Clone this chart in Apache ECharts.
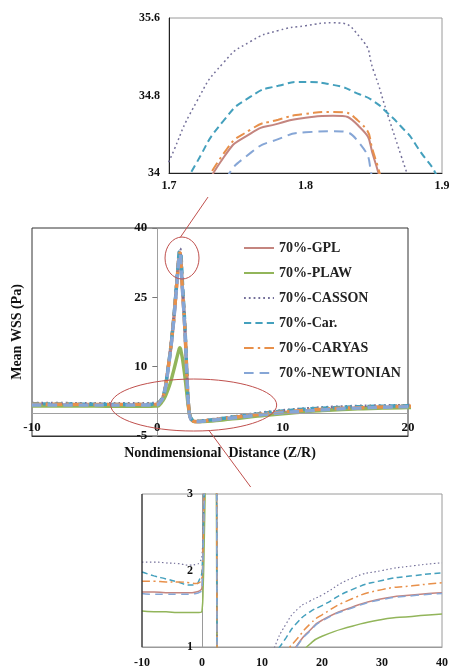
<!DOCTYPE html>
<html lang="en">
<head>
<meta charset="UTF-8">
<title>Mean WSS - 70% stenosis</title>
<script src="https://cdn.jsdelivr.net/npm/echarts@6/dist/echarts.min.js"></script>
<style>
  html, body { margin: 0; padding: 0; background: #fff; }
  #chart { width: 449px; height: 669px; }
</style>
</head>
<body>
<div id="chart"></div>
<script>
// Z/R stations (dense around the throat so the peak inset has detail)
const zr = [-10, -8, -6, -4, -2, -1, -0.5, 0,
  0.2, 0.4, 0.6, 0.8, 1.0, 1.2, 1.4, 1.6,
  1.7, 1.72, 1.74, 1.76, 1.78, 1.8, 1.82, 1.84, 1.85, 1.86, 1.87, 1.88, 1.9,
  2.0, 2.2, 2.4, 2.5, 2.6, 2.8, 3,
  4, 6, 8, 10, 12, 14, 16, 18, 20,
  25, 30, 35, 40];

// mean WSS (Pa) per model
const gpl = [1.72, 1.72, 1.71, 1.71, 1.71, 1.72, 1.73, 1.78,
  2.3, 3.1, 4.9, 8.4, 12.5, 17.2, 23.0, 29.6,
  33.0, 33.6, 34.16, 34.41, 34.51, 34.57, 34.59, 34.47, 34.16, 33.6, 33.1, 32.6, 31.7,
  27.0, 18.0, 5.5, 1.2, -0.8, -1.7, -1.9,
  -1.7, -1.1, -0.5, 0.05, 0.45, 0.78, 1.04, 1.22, 1.35,
  1.52, 1.63, 1.68, 1.71];
const plaw = [1.47, 1.46, 1.46, 1.45, 1.45, 1.45, 1.45, 1.47,
  1.8, 2.5, 3.4, 4.7, 6.2, 8.1, 10.2, 12.4,
  13.4, 13.6, 13.8, 13.95, 14.05, 14.1, 14.1, 14.0, 13.9, 13.8, 13.65, 13.5, 13.2,
  11.8, 7.8, 3.0, 0.9, -0.6, -1.6, -1.9,
  -1.8, -1.3, -0.7, -0.2, 0.3, 0.6, 0.86, 1.04, 1.14,
  1.27, 1.36, 1.4, 1.43];
const casson = [2.11, 2.11, 2.10, 2.09, 2.07, 2.08, 2.10, 2.2,
  2.6, 3.4, 5.2, 8.8, 13.0, 18.0, 24.0, 31.0,
  34.12, 34.73, 35.14, 35.36, 35.47, 35.52, 35.55, 35.40, 35.05, 34.61, 34.18, 33.75, 32.8,
  28.0, 18.5, 6.0, 1.5, -0.5, -1.5, -1.75,
  -1.5, -0.8, -0.05, 0.55, 0.98, 1.3, 1.5, 1.6, 1.68,
  1.9, 2.0, 2.06, 2.1];
const car = [1.98, 1.93, 1.89, 1.85, 1.81, 1.82, 1.87, 2.0,
  2.5, 3.3, 5.1, 8.6, 12.7, 17.5, 23.4, 30.2,
  33.55, 34.1, 34.54, 34.79, 34.9, 34.94, 34.91, 34.81, 34.74, 34.62, 34.48, 34.31, 33.8,
  28.5, 18.8, 5.9, 1.4, -0.6, -1.55, -1.8,
  -1.6, -0.9, -0.2, 0.4, 0.85, 1.12, 1.33, 1.46, 1.54,
  1.75, 1.87, 1.93, 1.97];
const caryas = [1.86, 1.86, 1.85, 1.85, 1.84, 1.83, 1.84, 1.90,
  2.4, 3.2, 5.0, 8.5, 12.6, 17.3, 23.1, 29.7,
  33.05, 33.65, 34.2, 34.45, 34.55, 34.61, 34.63, 34.52, 34.2, 33.65, 33.15, 32.65, 31.75,
  27.0, 18.0, 5.6, 1.3, -0.7, -1.6, -1.85,
  -1.65, -1.0, -0.35, 0.2, 0.6, 0.92, 1.12, 1.3, 1.42,
  1.63, 1.75, 1.8, 1.84];
const newtonian = [1.70, 1.69, 1.69, 1.69, 1.69, 1.70, 1.71, 1.76,
  2.3, 3.0, 4.8, 8.2, 12.3, 17.0, 22.7, 29.3,
  32.7, 33.3, 33.9, 34.21, 34.35, 34.42, 34.43, 34.3, 33.9, 33.4, 32.9, 32.4, 31.5,
  26.8, 17.8, 5.4, 1.2, -0.8, -1.7, -1.9,
  -1.7, -1.1, -0.5, 0.04, 0.44, 0.77, 1.03, 1.21, 1.34,
  1.51, 1.62, 1.67, 1.70];

// axis ranges: [min, max, interval]
const mainX = [-10, 20, 10];
const mainY = [-5, 40, 15];
const peakX = [1.7, 1.9, 0.1];
const peakY = [34, 35.6, 0.8];
const tailX = [-10, 40, 10];
const tailY = [1, 3, 1];

// zoom marks on the main chart (data coords)
const peakMark = [1.97, 33.5];
const dipMark = [2.9, 1.7];

const FONT = '"Liberation Serif", "Times New Roman", serif';
const RED = '#c0504d';

// plot boxes
const mainBox = { left: 32, top: 228, width: 376, height: 208 };
const peakBox = { left: 169, top: 18, width: 273, height: 155 };
const tailBox = { left: 142, top: 494, width: 300, height: 153 };

const models = [
  { name: '70%-GPL', data: gpl, color: '#c4857f', dash: 'solid', w: 1 },
  { name: '70%-PLAW', data: plaw, color: '#92b55a', dash: 'solid', w: 1 },
  { name: '70%-CASSON', data: casson, color: '#74709a', dash: [0.6, 1.0], w: 0.75 },
  { name: '70%-Car.', data: car, color: '#44a0bd', dash: [2.4, 1.4], w: 1 },
  { name: '70%-CARYAS', data: caryas, color: '#e8904a', dash: [3.2, 1.4, 0.8, 1.4], w: 1 },
  { name: '70%-NEWTONIAN', data: newtonian, color: '#86a6d6', dash: [3.2, 2], w: 1 }
];

// grid 0 = main, 1 = peak inset (top), 2 = tail inset (bottom)
const views = [
  { grid: 0, width: 3.4, unit: 3 },
  { grid: 1, width: 2, unit: 3 },
  { grid: 2, width: 1.5, unit: 2.5 }
];

const series = [];
views.forEach(v => {
  models.forEach((m, k) => {
    const s = {
      name: m.name,
      type: 'line',
      xAxisIndex: v.grid,
      yAxisIndex: v.grid,
      data: zr.map((z, i) => [z, m.data[i]]),
      symbol: 'none',
      showSymbol: false,
      smooth: 0.6,
      clip: true,
      lineStyle: {
        color: m.color,
        width: v.width * m.w,
        type: m.dash === 'solid' ? 'solid' : m.dash.map(d => d * v.unit)
      },
      itemStyle: { color: m.color },
      emphasis: { disabled: true }
    };
    if (v.grid === 0 && k === 0) {
      s.markLine = {
        silent: true, symbol: 'none', animation: false,
        label: { show: false },
        lineStyle: { color: '#a0a0a0', type: 'solid', width: 1 },
        data: [{ yAxis: 0 }]
      };
    }
    series.push(s);
  });
});

// y axes of the main chart and tail inset sit on Z/R = 0
const zeroShift = (range, box) => -(0 - range[0]) / (range[1] - range[0]) * box.width;

const tickLabel = size => ({ fontFamily: FONT, fontWeight: 'bold', fontSize: size, color: '#111' });
const fixedGrid = { show: true, containLabel: false, outerBoundsMode: 'none', borderWidth: 1 };

const option = {
  animation: false,
  backgroundColor: '#fff',
  grid: [
    Object.assign({ borderColor: '#333' }, mainBox, fixedGrid),
    Object.assign({ borderColor: '#9a9a9a' }, peakBox, fixedGrid),
    Object.assign({ borderColor: '#9a9a9a' }, tailBox, fixedGrid)
  ],
  legend: {
    data: models.map(m => m.name),
    orient: 'vertical',
    left: 238, top: 236,
    itemWidth: 30, itemHeight: 14, itemGap: 11,
    selectedMode: false,
    itemStyle: { opacity: 0 },
    textStyle: { fontFamily: FONT, fontWeight: 'bold', fontSize: 14, color: '#222' }
  },
  xAxis: [
    {
      gridIndex: 0, type: 'value', min: mainX[0], max: mainX[1], interval: mainX[2],
      position: 'bottom',
      axisLine: { onZero: false, lineStyle: { color: '#333' } },
      axisTick: { show: false },
      splitLine: { show: false },
      axisLabel: Object.assign({ inside: true, margin: 2 }, tickLabel(13)),
      name: 'Nondimensional  Distance (Z/R)',
      nameLocation: 'middle', nameGap: 10,
      nameTextStyle: { fontFamily: FONT, fontWeight: 'bold', fontSize: 14, color: '#111' }
    },
    {
      gridIndex: 1, type: 'value', min: peakX[0], max: peakX[1], interval: peakX[2],
      axisLine: { onZero: false, lineStyle: { color: '#222' } },
      axisTick: { show: false },
      splitLine: { show: false },
      axisLabel: Object.assign({ margin: 7 }, tickLabel(12))
    },
    {
      gridIndex: 2, type: 'value', min: tailX[0], max: tailX[1], interval: tailX[2],
      axisLine: { onZero: false, lineStyle: { color: '#9a9a9a' } },
      axisTick: { show: false },
      splitLine: { show: false },
      axisLabel: Object.assign({ margin: 10 }, tickLabel(12))
    }
  ],
  yAxis: [
    {
      gridIndex: 0, type: 'value', min: mainY[0], max: mainY[1], interval: mainY[2],
      position: 'left', offset: zeroShift(mainX, mainBox),
      axisLine: { onZero: false, lineStyle: { color: '#a0a0a0' } },
      axisTick: { show: true, length: 5, lineStyle: { color: '#777' } },
      splitLine: { show: false },
      axisLabel: Object.assign({ margin: 10 }, tickLabel(13)),
      name: 'Mean WSS (Pa)',
      nameLocation: 'middle', nameGap: 133, nameRotate: 90,
      nameTextStyle: { fontFamily: FONT, fontWeight: 'bold', fontSize: 14, color: '#111' }
    },
    {
      gridIndex: 1, type: 'value', min: peakY[0], max: peakY[1], interval: peakY[2],
      axisLine: { onZero: false, lineStyle: { color: '#222' } },
      axisTick: { show: false },
      splitLine: { show: false },
      axisLabel: Object.assign({ margin: 9 }, tickLabel(12))
    },
    {
      gridIndex: 2, type: 'value', min: tailY[0], max: tailY[1], interval: tailY[2],
      position: 'left', offset: zeroShift(tailX, tailBox),
      axisLine: { onZero: false, lineStyle: { color: '#9a9a9a' } },
      axisTick: { show: false },
      splitLine: { show: false },
      axisLabel: Object.assign({ margin: 9 }, tickLabel(12))
    }
  ],
  series: series
};

const chart = echarts.init(document.getElementById('chart'));
chart.setOption(option);

// zoom ellipses, leader lines and the dark left edge of the tail inset
const pk = chart.convertToPixel({ gridIndex: 0 }, peakMark);
const dp = chart.convertToPixel({ gridIndex: 0 }, dipMark);
const edgeTop = chart.convertToPixel({ gridIndex: 2 }, [tailX[0], tailY[1]]);
const edgeBot = chart.convertToPixel({ gridIndex: 2 }, [tailX[0], tailY[0]]);
const redLine = { stroke: RED, lineWidth: 1, fill: null };

chart.setOption({
  graphic: [
    { type: 'ellipse', shape: { cx: pk[0], cy: pk[1], rx: 17, ry: 21 }, style: redLine, z: 100, silent: true },
    { type: 'line', shape: { x1: pk[0] - 1.5, y1: pk[1] - 21, x2: pk[0] + 26, y2: pk[1] - 61 }, style: redLine, z: 100, silent: true },
    { type: 'ellipse', shape: { cx: dp[0], cy: dp[1], rx: 83, ry: 26 }, style: redLine, z: 100, silent: true },
    { type: 'line', shape: { x1: dp[0] + 15, y1: dp[1] + 25, x2: dp[0] + 57, y2: dp[1] + 82 }, style: redLine, z: 100, silent: true },
    { type: 'line', shape: { x1: edgeTop[0], y1: edgeTop[1], x2: edgeBot[0], y2: edgeBot[1] }, style: { stroke: '#111', lineWidth: 1 }, z: 100, silent: true }
  ]
});

window.addEventListener('resize', function () {
  chart.resize();
});
</script>
</body>
</html>
